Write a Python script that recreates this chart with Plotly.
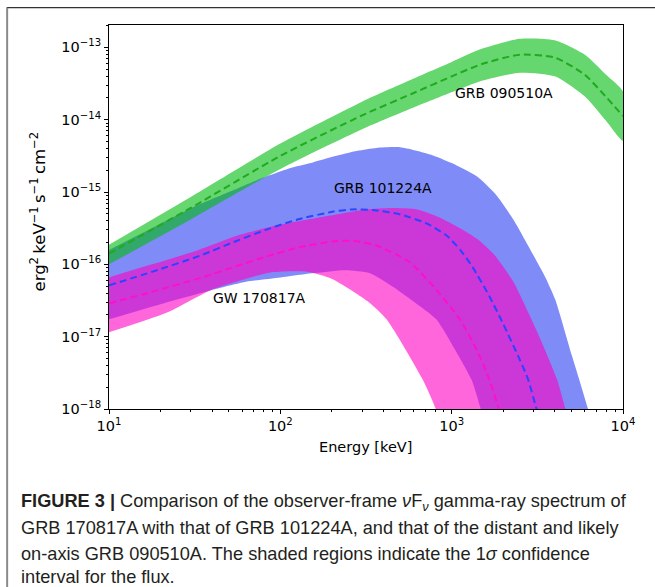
import numpy as np
import plotly.graph_objects as go

# ---------------- data (log10 energy [keV], log10 flux) ----------------
# GRB 090510A (green)
green_logE = [1.0, 1.477, 2.0, 2.477, 2.778, 3.0, 3.176, 3.398, 3.602, 3.778, 3.903, 4.0]
green_mid = [-15.85, -15.22, -14.50, -13.94, -13.63, -13.40, -13.23, -13.10, -13.14, -13.38, -13.69, -13.95]
green_hi = [-15.73, -15.07, -14.33, -13.75, -13.43, -13.20, -13.02, -12.88, -12.90, -13.10, -13.38, -13.61]
green_lo = [-16.00, -15.38, -14.68, -14.13, -13.83, -13.62, -13.46, -13.35, -13.40, -13.68, -14.02, -14.29]

# GRB 101224A (blue)
blue_mid_logE = [1.0, 1.255, 1.531, 1.74, 1.919, 2.1, 2.31, 2.42, 2.55, 2.70, 2.85, 2.97,
                 3.05, 3.12, 3.22, 3.3, 3.4, 3.446, 3.495, 3.55]
blue_mid = [-16.29, -16.10, -15.88, -15.68, -15.52, -15.38, -15.27, -15.24, -15.25, -15.31, -15.43,
            -15.60, -15.80, -16.03, -16.44, -16.82, -17.33, -17.59, -18.0, -18.5]
blue_hi_logE = [1.0, 1.25, 1.5, 1.75, 1.9, 2.07, 2.19, 2.31, 2.45, 2.56, 2.70, 2.875, 3.0, 3.15,
                3.26, 3.36, 3.46, 3.545, 3.605, 3.70, 3.744, 3.796, 3.85]
blue_hi = [-15.80, -15.50, -15.20, -14.95, -14.80, -14.66, -14.59, -14.51, -14.43, -14.39, -14.38,
           -14.48, -14.60, -14.79, -15.04, -15.38, -15.80, -16.17, -16.49, -17.25, -17.59, -18.0, -18.4]
blue_lo_logE = [1.0, 1.3, 1.59, 1.8, 2.0, 2.2, 2.38, 2.52, 2.65, 2.775, 2.91, 3.0, 3.115, 3.17, 3.22]
blue_lo = [-16.76, -16.55, -16.36, -16.24, -16.18, -16.12, -16.08, -16.12, -16.30, -16.51, -16.76,
           -17.10, -17.59, -18.0, -18.4]

# GW 170817A (magenta)
mag_mid_logE = [1.0, 1.25, 1.53, 1.75, 1.92, 2.1, 2.31, 2.45, 2.56, 2.75, 2.9, 3.05, 3.15, 3.22, 3.275, 3.32]
mag_mid = [-16.54, -16.38, -16.19, -16.02, -15.89, -15.77, -15.68, -15.68, -15.74, -15.96, -16.32,
           -16.77, -17.20, -17.59, -18.0, -18.4]
mag_hi_logE = [1.0, 1.25, 1.5, 1.75, 2.0, 2.3, 2.5, 2.65, 2.8, 2.92, 3.05, 3.15, 3.25, 3.36, 3.45,
               3.53, 3.615, 3.664, 3.72]
mag_hi = [-16.18, -16.00, -15.82, -15.60, -15.45, -15.32, -15.24, -15.22, -15.24, -15.34, -15.50,
          -15.65, -15.87, -16.24, -16.68, -17.10, -17.59, -18.0, -18.4]
mag_lo_logE = [1.0, 1.335, 1.59, 1.8, 1.95, 2.15, 2.3, 2.52, 2.62, 2.83, 2.907, 2.95]
mag_lo = [-16.94, -16.67, -16.36, -16.20, -16.11, -16.10, -16.20, -16.53, -16.76, -17.59, -18.0, -18.4]

labels = ["GRB 090510A", "GRB 101224A", "GW 170817A"]
y_tick_exp = [-18, -17, -16, -15, -14, -13]
x_tick_exp = [1, 2, 3, 4]

# ---------------- figure ----------------
W, H = 655, 587
L, R, T, B = 109.3, 32, 25.3, 178
PW, PH = W - L - R, H - T - B


def px(xp):
    return (xp - L) / PW


def py(yp):
    return (H - B - yp) / PH


def p10(a):
    return 10 ** np.asarray(a, dtype=float)


def band(xh, yh, xl, yl):
    xs = list(p10(xh)) + list(p10(xl))[::-1]
    ys = list(p10(yh)) + list(p10(yl))[::-1]
    return xs, ys


fig = go.Figure()

blue_fill = "rgba(0,25,241,0.5)"
mag_fill = "rgba(255,0,195,0.6)"
green_fill = "rgba(0,187,13,0.6)"

for xh, yh, xl, yl, col in [
    (blue_hi_logE, blue_hi, blue_lo_logE, blue_lo, blue_fill),
    (mag_hi_logE, mag_hi, mag_lo_logE, mag_lo, mag_fill),
    (green_logE, green_hi, green_logE, green_lo, green_fill),
]:
    xs, ys = band(xh, yh, xl, yl)
    fig.add_trace(go.Scatter(x=xs, y=ys, fill="toself", fillcolor=col, mode="lines",
                             line=dict(width=0, shape="spline", smoothing=0.6),
                             hoverinfo="skip", showlegend=False))

for xe, ye, col in [
    (mag_mid_logE, mag_mid, "#ff10c8"),
    (blue_mid_logE, blue_mid, "#2845ff"),
    (green_logE, green_mid, "#1faa1f"),
]:
    fig.add_trace(go.Scatter(x=p10(xe), y=p10(ye), mode="lines",
                             line=dict(color=col, width=2, dash="7px,4px", shape="spline", smoothing=0.6),
                             hoverinfo="skip", showlegend=False))

tick_font = dict(family="DejaVu Sans", size=14.5, color="black")


def minor_vals(lo, hi):
    vals = []
    for d in range(lo, hi):
        for m in range(2, 10):
            vals.append(m * 10.0 ** d)
    return vals


fig.update_xaxes(type="log", range=[1, 4],
                 tickvals=[10.0 ** e for e in x_tick_exp],
                 ticktext=["10<sup>%d</sup>" % e for e in x_tick_exp],
                 ticks="outside", ticklen=4, tickcolor="black", tickwidth=1,
                 minor=dict(tickvals=minor_vals(1, 4), ticks="outside", ticklen=2, tickcolor="black"),
                 showline=True, linecolor="black", linewidth=1, mirror=True,
                 showgrid=False, zeroline=False, tickfont=tick_font)
fig.update_yaxes(type="log", range=[-18, -12.69],
                 tickvals=[10.0 ** e for e in y_tick_exp],
                 ticktext=["10<sup>\u2212%d</sup>" % (-e) for e in y_tick_exp],
                 ticks="outside", ticklen=4, tickcolor="black", tickwidth=1,
                 minor=dict(tickvals=minor_vals(-18, -12), ticks="outside", ticklen=2, tickcolor="black"),
                 showline=True, linecolor="black", linewidth=1, mirror=True,
                 showgrid=False, zeroline=False, tickfont=tick_font)

ann = []
lab_font = dict(family="DejaVu Sans", size=14, color="black")
for text, x, y in [(labels[0], 504, 93), (labels[1], 383, 188), (labels[2], 260, 298)]:
    ann.append(dict(text=text, xref="paper", yref="paper", x=px(x), y=py(y),
                    xanchor="center", yanchor="middle", showarrow=False, font=lab_font))

ann.append(dict(text="Energy [keV]", xref="paper", yref="paper", x=px(366), y=py(447),
                xanchor="center", yanchor="middle", showarrow=False,
                font=dict(family="DejaVu Sans", size=14.5, color="black")))
ann.append(dict(text="erg<sup>2</sup>\u2009keV<sup>\u22121</sup>\u2009s<sup>\u22121</sup>\u2009cm<sup>\u22122</sup>",
                xref="paper", yref="paper", x=px(38), y=py(212), textangle=-90,
                xanchor="center", yanchor="middle", showarrow=False,
                font=dict(family="DejaVu Sans", size=16.5, color="black")))

cap_font = dict(family="Liberation Sans", size=18.2, color="#231f20")
caption = [
    "<b>FIGURE 3 |</b> Comparison of the observer-frame <i>\u03bd</i>F<sub><i>\u03bd</i></sub> gamma-ray spectrum of",
    "GRB 170817A with that of GRB 101224A, and that of the distant and likely",
    "on-axis GRB 090510A. The shaded regions indicate the 1<i>\u03c3</i> confidence",
    "interval for the flux.",
]
for line, yc in zip(caption, [502, 528, 554, 577]):
    ann.append(dict(text=line, xref="paper", yref="paper", x=px(19), y=py(yc),
                    xanchor="left", yanchor="middle", showarrow=False, font=cap_font))

shapes = [
    dict(type="line", xref="paper", yref="paper", x0=px(7), x1=px(700), y0=py(8), y1=py(8),
         line=dict(color="#333333", width=1.2)),
    dict(type="line", xref="paper", yref="paper", x0=px(7.5), x1=px(7.5), y0=py(8), y1=py(620),
         line=dict(color="#8a8a8a", width=2)),
]

fig.update_layout(width=W, height=H, margin=dict(l=L, r=R, t=T, b=B),
                  paper_bgcolor="white", plot_bgcolor="white",
                  annotations=ann, shapes=shapes, showlegend=False)

fig.write_html("out.html")
